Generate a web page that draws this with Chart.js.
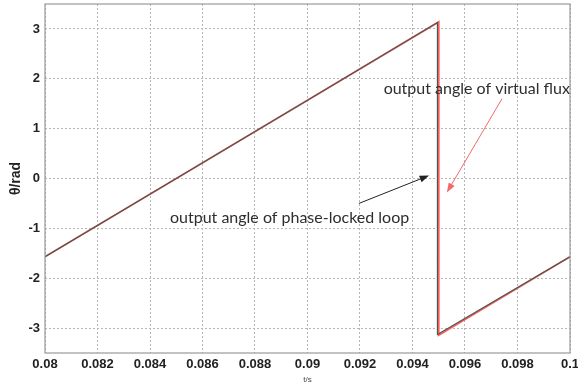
<!DOCTYPE html>
<html>
<head>
<meta charset="utf-8">
<script src="https://cdn.jsdelivr.net/npm/chart.js@4/dist/chart.umd.min.js"></script>
<style>
  html, body { margin: 0; padding: 0; background: #fff; }
  #wrap { width: 578px; height: 385px; }
</style>
</head>
<body>
<div id="wrap"><canvas id="angleChart"></canvas></div>
<script>
// angle readings, rad
const timeFlux = [0.08, 0.085, 0.09, 0.095, 0.095, 0.1];
const angleFlux = [-1.57, 0.0, 1.57, 3.14, -3.14, -1.57];
const timePll = [0.08, 0.085, 0.09, 0.09495, 0.09495, 0.1];
const anglePll = [-1.57, 0.0, 1.57, 3.13, -3.13, -1.57];

const xTicks = [0.08, 0.082, 0.084, 0.086, 0.088, 0.09, 0.092, 0.094, 0.096, 0.098, 0.1];
const xTickLabels = ['0.08', '0.082', '0.084', '0.086', '0.088', '0.09', '0.092', '0.094', '0.096', '0.098', '0.1'];
const yTicks = [-3, -2, -1, 0, 1, 2, 3];

// text notes with arrows, in data units
const notes = [
    { text: 'output angle of virtual flux', x: 0.0929, y: 1.8, color: '#f06a6a',
      from: [0.09741, 1.6], to: [0.09531, -0.28] },
    { text: 'output angle of phase-locked loop', x: 0.08476, y: -0.78, color: '#222',
      from: [0.09196, -0.5], to: [0.09463, 0.06] }
];

function toPoints(xs, ys) {
    return xs.map((x, i) => ({ x: x, y: ys[i] }));
}

const framePlugin = {
    id: 'frame',
    afterDraw(chart) {
        const ctx = chart.ctx;
        const a = chart.chartArea;
        ctx.save();
        ctx.strokeStyle = '#9a9a9a';
        ctx.lineWidth = 1.2;
        ctx.strokeRect(a.left, a.top, a.right - a.left, a.bottom - a.top);
        ctx.restore();
    }
};

const notesPlugin = {
    id: 'notes',
    afterDraw(chart) {
        const ctx = chart.ctx;
        const xs = chart.scales.x, ys = chart.scales.y;
        ctx.save();
        notes.forEach(n => {
            ctx.font = '16px Lato';
            ctx.fillStyle = '#2e2e2e';
            ctx.textBaseline = 'middle';
            ctx.fillText(n.text, xs.getPixelForValue(n.x), ys.getPixelForValue(n.y));

            const x1 = xs.getPixelForValue(n.from[0]), y1 = ys.getPixelForValue(n.from[1]);
            const x2 = xs.getPixelForValue(n.to[0]), y2 = ys.getPixelForValue(n.to[1]);
            const ang = Math.atan2(y2 - y1, x2 - x1);
            ctx.strokeStyle = n.color;
            ctx.fillStyle = n.color;
            ctx.lineWidth = 1;
            ctx.beginPath();
            ctx.moveTo(x1, y1);
            ctx.lineTo(x2 - 8 * Math.cos(ang), y2 - 8 * Math.sin(ang));
            ctx.stroke();
            ctx.beginPath();
            ctx.moveTo(x2, y2);
            ctx.lineTo(x2 - 10 * Math.cos(ang - 0.35), y2 - 10 * Math.sin(ang - 0.35));
            ctx.lineTo(x2 - 10 * Math.cos(ang + 0.35), y2 - 10 * Math.sin(ang + 0.35));
            ctx.closePath();
            ctx.fill();
        });
        ctx.restore();
    }
};

new Chart(document.getElementById('angleChart'), {
    type: 'scatter',
    data: {
        datasets: [
            {
                label: 'phase-locked loop',
                data: toPoints(timePll, anglePll),
                showLine: true,
                borderColor: '#4a5a52',
                borderWidth: 1.2,
                pointRadius: 0
            },
            {
                label: 'virtual flux',
                data: toPoints(timeFlux, angleFlux),
                showLine: true,
                borderColor: '#ff5c5c',
                borderWidth: 1.8,
                pointRadius: 0
            }
        ]
    },
    options: {
        responsive: true,
        maintainAspectRatio: false,
        animation: false,
        layout: { padding: { top: 4, right: 8, left: 0, bottom: 0 } },
        plugins: { legend: { display: false }, tooltip: { enabled: false } },
        scales: {
            x: {
                type: 'linear',
                min: 0.08,
                max: 0.1,
                afterBuildTicks: s => { s.ticks = xTicks.map(v => ({ value: v })); },
                afterFit: s => {
                    s.height = 32;
                    s.paddingLeft = 0;
                    s.paddingRight = 0;
                },
                ticks: {
                    callback: (v, i) => xTickLabels[i],
                    color: '#222',
                    font: { family: 'Liberation Sans', size: 13, weight: 'bold' },
                    padding: 4,
                    maxRotation: 0
                },
                grid: { color: '#b5b5b5', drawTicks: false, lineWidth: 1 },
                border: { display: false, dash: [2, 2] },
                title: {
                    display: true, text: 't/s', color: '#444',
                    font: { family: 'Liberation Sans', size: 8 }, padding: { top: 2, bottom: 0 }
                }
            },
            y: {
                min: -3.5,
                max: 3.5,
                afterBuildTicks: s => { s.ticks = yTicks.map(v => ({ value: v })); },
                afterFit: s => {
                    s.width = 45;
                    s.paddingTop = 0;
                    s.paddingBottom = 0;
                },
                ticks: {
                    color: '#222',
                    font: { family: 'Liberation Sans', size: 13, weight: 'bold' },
                    padding: 5
                },
                grid: { color: '#b5b5b5', drawTicks: false, lineWidth: 1 },
                border: { display: false, dash: [2, 2] },
                title: {
                    display: true, text: 'θ/rad', color: '#222',
                    font: { family: 'Liberation Sans', size: 14, weight: 'bold' },
                    padding: { top: 8, bottom: 0 }
                }
            }
        }
    },
    plugins: [framePlugin, notesPlugin]
});
</script>
</body>
</html>
